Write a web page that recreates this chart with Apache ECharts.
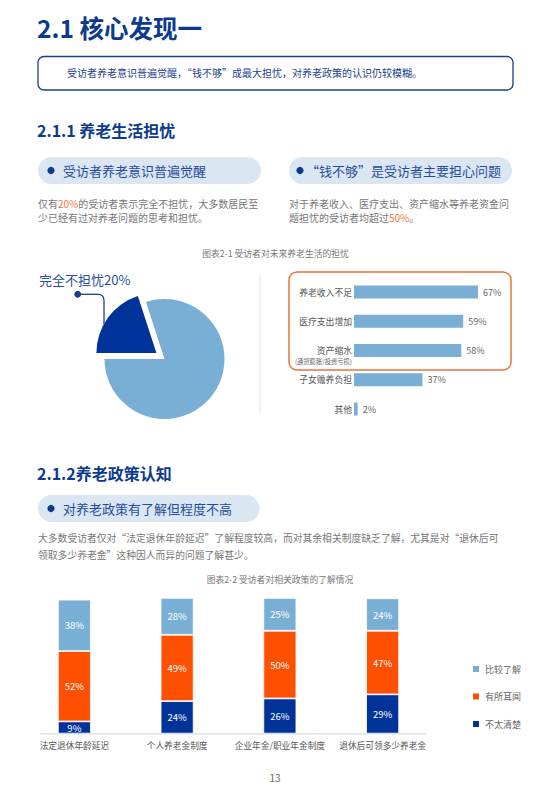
<!DOCTYPE html>
<html>
<head>
<meta charset="utf-8">
<script src="https://cdn.jsdelivr.net/npm/echarts@6/dist/echarts.min.js"></script>
<style>
html,body{margin:0;padding:0;background:#fff;}
#page{width:543px;height:795px;}
</style>
</head>
<body>
<div id="page"></div>
<script>
// ---------- data ----------
const pieNames = ['有所担忧', '完全不担忧'];
const pieValues = [80, 20];

const worryCats = ['养老收入不足', '医疗支出增加', '资产缩水', '子女赡养负担', '其他'];
const worryValues = [67, 59, 58, 37, 2];
const worryNote = '(通货膨胀/投资亏损)';

const policyCats = ['法定退休年龄延迟', '个人养老金制度', '企业年金/职业年金制度', '退休后可领多少养老金'];
const levelNames = ['比较了解', '有所耳闻', '不太清楚'];
const knowWell = [38, 28, 25, 24];
const heardOf = [52, 49, 50, 47];
const unclear = [9, 24, 26, 29];

// ---------- styles ----------
const FF = '"Noto Sans CJK SC","Noto Sans",sans-serif';
const NAVY = '#0b3a8e';
const PILL_TEXT = '#1f4c9e';
const GRAY = '#777';
const ORANGE_TXT = '#ef7a3c';
const C_LIGHT = '#7aafd5';
const C_ORANGE = '#ff4f00';
const C_DARK = '#003399';

function txt(x, y, text, size, fill, extra) {
  return {
    type: 'text', x: x, y: y, silent: true,
    style: Object.assign({
      text: text, fill: fill, fontSize: size, fontFamily: FF,
      align: 'left', verticalAlign: 'middle'
    }, extra || {})
  };
}
function rect(x, y, w, h, r, style) {
  return { type: 'rect', silent: true, shape: { x: x, y: y, width: w, height: h, r: r }, style: style };
}
function pill(x, y, w, h, dotX, textX, text) {
  return [
    rect(x, y, w, h, h / 2, { fill: '#dbe6f3' }),
    { type: 'circle', silent: true, shape: { cx: dotX, cy: y + h / 2, r: 3.6 }, style: { fill: NAVY } },
    txt(textX, y + h / 2, text, 13, PILL_TEXT)
  ];
}

const graphics = [];
// title
graphics.push(txt(37, 27, '2.1 核心发现一', 24.5, NAVY, { fontWeight: 'bold' }));
// summary box
graphics.push(rect(38, 56.5, 475, 33.5, 6, { fill: 'none', stroke: '#1d3f8c', lineWidth: 1.3 }));
graphics.push(txt(67, 72, '受访者养老意识普遍觉醒，“钱不够”成最大担忧，对养老政策的认识仍较模糊。', 10, '#1d3f8c'));
// section 2.1.1
graphics.push(txt(37, 129.5, '2.1.1 养老生活担忧', 16, NAVY, { fontWeight: 'bold' }));
graphics.push.apply(graphics, pill(38, 157, 223, 27, 51, 63, '受访者养老意识普遍觉醒'));
graphics.push.apply(graphics, pill(289, 157, 223, 27, 300, 306, '“钱不够”是受访者主要担心问题'));
const paraRich = { o: { fill: ORANGE_TXT, fontSize: 10, fontFamily: FF } };
graphics.push(txt(38, 203.3, '仅有{o|20%}的受访者表示完全不担忧，大多数居民至', 10, GRAY, { rich: paraRich }));
graphics.push(txt(38, 217.5, '少已经有过对养老问题的思考和担忧。', 10, GRAY));
graphics.push(txt(289, 203.3, '对于养老收入、医疗支出、资产缩水等养老资金问', 10, GRAY));
graphics.push(txt(289, 217.5, '题担忧的受访者均超过{o|50%}。', 10, GRAY, { rich: paraRich }));
// caption 1
graphics.push(txt(275.5, 253, '图表2-1 受访者对未来养老生活的担忧', 8.8, '#777', { align: 'center' }));
// pie callout
graphics.push(txt(39, 279, pieNames[1] + pieValues[1] + '%', 13, '#2a4f9c'));
const CALL = { fill: 'none', stroke: '#1b3f8f', lineWidth: 1.3 };
graphics.push({ type: 'line', silent: true, z: 10, shape: { x1: 77.7, y1: 294.3, x2: 98, y2: 294.3 }, style: CALL });
graphics.push({ type: 'bezierCurve', silent: true, z: 10, shape: { x1: 98, y1: 294.3, cpx1: 104, cpy1: 294.3, x2: 104, y2: 300.3 }, style: CALL });
graphics.push({ type: 'line', silent: true, z: 10, shape: { x1: 104, y1: 300.3, x2: 104, y2: 324 }, style: CALL });
graphics.push({ type: 'circle', silent: true, z: 10, shape: { cx: 77.7, cy: 294.3, r: 3.4 }, style: { fill: '#1b3f8f' } });
// separator
graphics.push({ type: 'line', silent: true, shape: { x1: 260, y1: 273, x2: 260, y2: 415 }, style: { stroke: '#e6e6e6', lineWidth: 1 } });
// orange highlight box
graphics.push(rect(289, 272, 222, 98, 8, { fill: 'none', stroke: '#e8743b', lineWidth: 1.5 }));
// section 2.1.2
graphics.push(txt(37, 473.3, '2.1.2养老政策认知', 16, NAVY, { fontWeight: 'bold' }));
graphics.push.apply(graphics, pill(38, 495, 221.5, 27, 51, 63, '对养老政策有了解但程度不高'));
graphics.push(txt(38, 538.3, '大多数受访者仅对“法定退休年龄延迟”了解程度较高，而对其余相关制度缺乏了解，尤其是对“退休后可', 9.8, GRAY));
graphics.push(txt(38, 555.3, '领取多少养老金”这种因人而异的问题了解甚少。', 9.8, GRAY));
graphics.push(txt(280, 579, '图表2-2 受访者对相关政策的了解情况', 8.8, '#777', { align: 'center' }));
// baseline of stacked chart
graphics.push({ type: 'line', silent: true, shape: { x1: 40.5, y1: 733.8, x2: 427, y2: 733.8 }, style: { stroke: '#e2e2e2', lineWidth: 1.5 } });
// page number
graphics.push(txt(275, 777, '13', 10, '#666', { align: 'center' }));

const chart = echarts.init(document.getElementById('page'), null, { renderer: 'svg', width: 543, height: 795 });

const barLabel = { show: true, position: 'inside', formatter: '{c}%', color: '#fff', fontSize: 9.5, fontFamily: FF };

const option = {
  animation: false,
  textStyle: { fontFamily: FF },
  graphic: graphics,
  legend: {
    data: levelNames,
    orient: 'vertical',
    left: 466, top: 659,
    itemWidth: 8, itemHeight: 8, itemGap: 17.5,
    icon: 'rect',
    selectedMode: false,
    textStyle: { color: '#666', fontSize: 9, fontFamily: FF }
  },
  grid: [
    { left: 354, top: 277.4, width: 185, height: 146.25 },
    { left: 23, top: 598.3, width: 411, height: 135.3 }
  ],
  xAxis: [
    { gridIndex: 0, type: 'value', min: 0, max: 100, show: false },
    { gridIndex: 1, type: 'category', data: policyCats,
      axisLine: { show: false }, axisTick: { show: false },
      axisLabel: { color: '#555', fontSize: 8.7, margin: 8, interval: 0 } }
  ],
  yAxis: [
    { gridIndex: 0, type: 'category', data: worryCats, inverse: true,
      axisLine: { show: false }, axisTick: { show: false },
      axisLabel: {
        margin: 2, align: 'right',
        formatter: function (v) {
          return v === worryCats[2] ? '{e| }\n{a|' + v + '}\n{b|' + worryNote + '}' : '{a|' + v + '}';
        },
        rich: {
          a: { fontSize: 8.8, color: '#555', lineHeight: 12, fontFamily: FF },
          b: { fontSize: 6.3, color: '#666', lineHeight: 10, fontFamily: FF },
          e: { fontSize: 6, lineHeight: 10 }
        }
      } },
    { gridIndex: 1, type: 'value', min: 0, max: 100, show: false }
  ],
  series: [
    {
      type: 'pie', center: [164.5, 359], radius: 60,
      startAngle: 108, clockwise: true,
      selectedMode: 'single', selectedOffset: 10,
      label: { show: false }, labelLine: { show: false },
      emphasis: { disabled: true },
      data: [
        { name: pieNames[0], value: pieValues[0], itemStyle: { color: C_LIGHT } },
        { name: pieNames[1], value: pieValues[1], selected: true, itemStyle: { color: C_DARK } }
      ]
    },
    {
      type: 'bar', xAxisIndex: 0, yAxisIndex: 0, data: worryValues, barWidth: 13,
      itemStyle: { color: C_LIGHT },
      label: { show: true, position: 'right', distance: 5, formatter: '{c}%', color: '#666', fontSize: 9, fontFamily: FF },
      emphasis: { disabled: true }
    },
    { name: levelNames[2], type: 'bar', stack: 'p', xAxisIndex: 1, yAxisIndex: 1, data: unclear, barWidth: 33,
      itemStyle: { color: C_DARK, borderColor: '#fff', borderWidth: 0.8 }, label: barLabel, emphasis: { disabled: true } },
    { name: levelNames[1], type: 'bar', stack: 'p', xAxisIndex: 1, yAxisIndex: 1, data: heardOf, barWidth: 33,
      itemStyle: { color: C_ORANGE, borderColor: '#fff', borderWidth: 0.8 }, label: barLabel, emphasis: { disabled: true } },
    { name: levelNames[0], type: 'bar', stack: 'p', xAxisIndex: 1, yAxisIndex: 1, data: knowWell, barWidth: 33,
      itemStyle: { color: C_LIGHT, borderColor: '#fff', borderWidth: 0.8 }, label: barLabel, emphasis: { disabled: true } }
  ]
};
chart.setOption(option);
</script>
</body>
</html>
